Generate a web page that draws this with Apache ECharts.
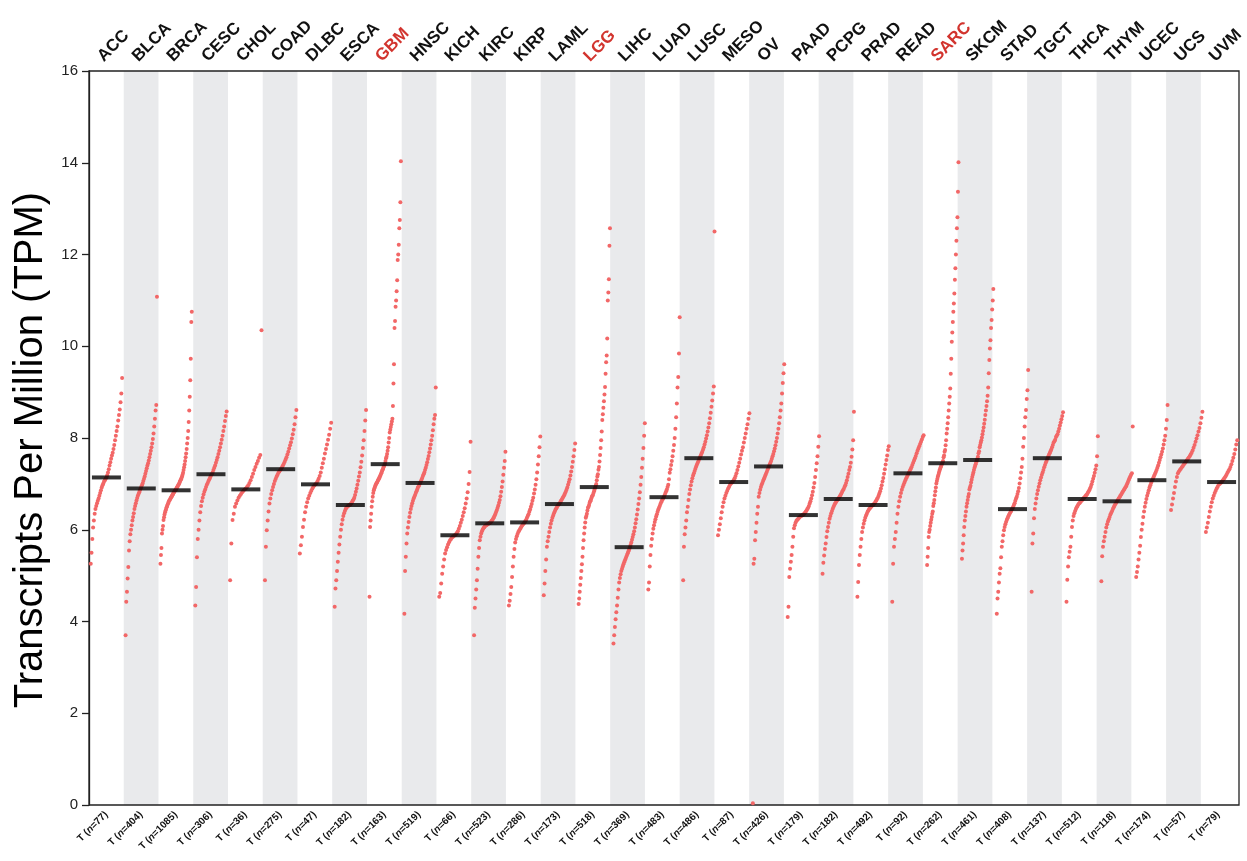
<!DOCTYPE html>
<html>
<head>
<meta charset="utf-8">
<script src="https://cdn.jsdelivr.net/npm/echarts@6/dist/echarts.min.js"></script>
<style>
html,body{margin:0;padding:0;background:#fff;}
#chart{width:1247px;height:861px;}
</style>
</head>
<body>
<div id="chart"></div>
<script>
const categories = ['ACC','BLCA','BRCA','CESC','CHOL','COAD','DLBC','ESCA','GBM','HNSC','KICH','KIRC','KIRP','LAML','LGG','LIHC','LUAD','LUSC','MESO','OV','PAAD','PCPG','PRAD','READ','SARC','SKCM','STAD','TGCT','THCA','THYM','UCEC','UCS','UVM'];
const sampleSizes = [77,404,1085,306,36,275,47,182,163,519,66,523,286,173,518,369,483,486,87,426,179,182,492,92,262,461,408,137,512,118,174,57,79];
const highlighted = ['GBM','LGG','SARC'];
const medians = [7.14,6.90,6.86,7.21,6.88,7.32,6.99,6.54,7.43,7.02,5.88,6.14,6.16,6.56,6.93,5.62,6.71,7.56,7.04,7.38,6.32,6.67,6.54,7.23,7.45,7.52,6.45,7.56,6.67,6.62,7.08,7.49,7.04];
const yAxisTitle = 'Transcripts Per Million (TPM)';

// sorted TPM values per cancer type
const ACC = [5.26,5.5,5.8,6.05,6.2,6.35,6.45,6.52,6.58,6.63,6.68,6.74,6.8,6.86,6.92,6.97,7.01,7.05,7.08,7.11,7.14,7.19,7.25,7.32,7.4,7.47,7.55,7.62,7.68,7.76,7.85,7.95,8.05,8.15,8.25,8.38,8.5,8.62,8.78,8.97,9.31];
const BLCA = [3.7,4.43,4.65,4.94,5.19,5.55,5.75,5.9,6.0,6.1,6.2,6.28,6.36,6.45,6.52,6.58,6.64,6.69,6.74,6.78,6.82,6.86,6.9,6.93,6.97,7.01,7.06,7.11,7.16,7.22,7.28,7.34,7.4,7.45,7.51,7.58,7.65,7.72,7.8,7.88,7.98,8.1,8.25,8.42,8.6,8.72,11.08];
const BRCA = [5.26,5.45,5.6,5.92,6.0,6.08,6.21,6.27,6.33,6.38,6.42,6.45,6.49,6.52,6.55,6.58,6.61,6.63,6.65,6.67,6.69,6.71,6.73,6.75,6.77,6.79,6.81,6.83,6.85,6.86,6.88,6.9,6.92,6.94,6.96,6.98,7.0,7.02,7.05,7.08,7.1,7.13,7.16,7.2,7.24,7.3,7.36,7.42,7.5,7.58,7.66,7.76,7.88,8.0,8.15,8.35,8.6,8.9,9.26,9.73,10.53,10.75];
const CESC = [4.35,4.75,5.4,5.8,6.0,6.2,6.38,6.52,6.62,6.7,6.77,6.83,6.88,6.93,6.98,7.02,7.06,7.1,7.14,7.18,7.21,7.25,7.3,7.35,7.4,7.46,7.52,7.58,7.65,7.72,7.8,7.88,7.96,8.05,8.15,8.25,8.37,8.48,8.58];
const CHOL = [4.9,5.7,6.21,6.35,6.5,6.57,6.64,6.7,6.74,6.78,6.82,6.85,6.88,6.9,6.93,6.97,7.02,7.08,7.15,7.22,7.3,7.37,7.44,7.5,7.57,7.63,10.35];
const COAD = [4.9,5.63,5.99,6.2,6.4,6.57,6.68,6.78,6.86,6.93,7.0,7.06,7.11,7.16,7.2,7.24,7.27,7.3,7.33,7.36,7.4,7.44,7.48,7.53,7.58,7.64,7.7,7.77,7.84,7.91,7.99,8.08,8.18,8.3,8.45,8.61];
const DLBC = [5.48,5.66,5.85,6.06,6.22,6.38,6.5,6.6,6.68,6.74,6.8,6.85,6.9,6.94,6.97,6.99,7.02,7.06,7.11,7.17,7.25,7.35,7.45,7.55,7.66,7.76,7.86,7.96,8.07,8.2,8.33];
const ESCA = [4.32,4.72,4.9,5.1,5.3,5.5,5.68,5.85,6.0,6.12,6.22,6.3,6.36,6.41,6.45,6.48,6.5,6.52,6.53,6.54,6.55,6.57,6.6,6.63,6.66,6.7,6.76,6.83,6.9,6.98,7.07,7.16,7.25,7.36,7.48,7.62,7.78,7.95,8.15,8.38,8.61];
const GBM = [4.54,6.06,6.2,6.35,6.5,6.62,6.72,6.8,6.86,6.9,6.93,6.96,6.99,7.01,7.03,7.05,7.08,7.1,7.12,7.15,7.17,7.2,7.23,7.26,7.29,7.32,7.35,7.38,7.41,7.44,7.5,7.56,7.59,7.65,7.72,7.8,7.9,8.0,8.12,8.18,8.24,8.3,8.36,8.42,8.7,9.19,9.61,10.4,10.55,10.86,11.0,11.2,11.44,11.88,12.0,12.21,12.57,12.75,13.14,14.03];
const HNSC = [4.17,5.1,5.41,5.7,5.92,6.05,6.17,6.28,6.37,6.45,6.52,6.58,6.63,6.68,6.72,6.76,6.8,6.84,6.88,6.92,6.95,6.98,7.02,7.05,7.09,7.13,7.17,7.21,7.25,7.3,7.35,7.41,7.47,7.54,7.61,7.69,7.77,7.86,7.95,8.05,8.17,8.3,8.42,8.5,9.1];
const KICH = [4.54,4.62,4.83,5.04,5.2,5.35,5.48,5.56,5.62,5.68,5.73,5.77,5.8,5.83,5.85,5.87,5.88,5.9,5.93,5.97,6.02,6.08,6.15,6.22,6.3,6.38,6.47,6.57,6.68,6.82,7.0,7.26,7.92];
const KIRC = [3.7,4.3,4.5,4.7,4.9,5.15,5.41,5.6,5.77,5.85,5.92,5.97,6.0,6.03,6.05,6.07,6.09,6.1,6.11,6.12,6.13,6.14,6.15,6.16,6.18,6.2,6.22,6.25,6.28,6.31,6.35,6.39,6.43,6.48,6.53,6.59,6.65,6.73,6.83,6.93,7.05,7.2,7.35,7.5,7.7];
const KIRP = [4.35,4.45,4.6,4.75,4.97,5.2,5.41,5.58,5.72,5.8,5.86,5.91,5.95,5.98,6.01,6.04,6.07,6.1,6.12,6.14,6.16,6.19,6.22,6.26,6.3,6.34,6.39,6.44,6.5,6.56,6.63,6.7,6.79,6.88,6.98,7.1,7.25,7.42,7.6,7.8,8.03];
const LAML = [4.57,4.83,5.1,5.35,5.63,5.75,5.85,5.95,6.05,6.13,6.2,6.26,6.31,6.36,6.4,6.44,6.47,6.5,6.53,6.55,6.57,6.6,6.63,6.66,6.69,6.72,6.75,6.79,6.83,6.87,6.92,6.98,7.04,7.1,7.18,7.27,7.37,7.48,7.6,7.74,7.88];
const LGG = [4.38,4.5,4.65,4.8,4.95,5.1,5.25,5.41,5.6,5.77,5.92,6.05,6.16,6.26,6.3,6.35,6.42,6.48,6.5,6.54,6.59,6.62,6.64,6.68,6.72,6.74,6.76,6.8,6.84,6.88,6.92,6.96,7.0,7.08,7.16,7.21,7.31,7.37,7.49,7.63,7.78,7.95,8.14,8.39,8.52,8.66,8.8,8.95,9.11,9.4,9.65,9.8,10.17,11.0,11.17,11.46,12.19,12.57];
const LIHC = [3.52,3.7,3.88,4.05,4.2,4.35,4.52,4.7,4.85,4.95,5.03,5.1,5.15,5.2,5.25,5.29,5.33,5.37,5.41,5.45,5.49,5.53,5.57,5.62,5.67,5.72,5.78,5.84,5.9,5.97,6.05,6.14,6.23,6.33,6.44,6.56,6.68,6.82,6.98,7.15,7.35,7.55,7.78,8.05,8.32];
const LUAD = [4.7,4.85,5.2,5.45,5.65,5.8,5.92,6.02,6.1,6.17,6.23,6.29,6.34,6.39,6.44,6.48,6.52,6.56,6.6,6.63,6.66,6.69,6.72,6.76,6.8,6.84,6.88,6.93,6.98,7.1,7.24,7.32,7.41,7.5,7.6,7.72,7.85,8.0,8.2,8.45,8.75,9.1,9.33,9.84,10.63];
const LUSC = [4.9,5.63,5.9,6.05,6.2,6.38,6.5,6.65,6.78,6.88,6.97,7.05,7.12,7.18,7.23,7.28,7.33,7.38,7.42,7.46,7.5,7.54,7.58,7.62,7.66,7.7,7.75,7.8,7.86,7.92,7.99,8.06,8.14,8.23,8.32,8.43,8.55,8.68,8.82,8.97,9.12,12.5];
const MESO = [5.88,6.0,6.12,6.25,6.38,6.5,6.6,6.68,6.74,6.8,6.85,6.9,6.94,6.98,7.01,7.03,7.05,7.08,7.12,7.17,7.23,7.3,7.38,7.46,7.55,7.64,7.72,7.8,7.9,8.0,8.1,8.2,8.3,8.42,8.54];
const OV = [0.04,5.26,5.37,5.77,5.95,6.15,6.35,6.5,6.72,6.8,6.87,6.93,6.98,7.02,7.06,7.1,7.14,7.18,7.22,7.26,7.3,7.34,7.38,7.42,7.46,7.5,7.55,7.6,7.65,7.71,7.77,7.84,7.92,8.0,8.1,8.2,8.32,8.45,8.6,8.75,8.97,9.2,9.41,9.61];
const PAAD = [4.1,4.32,4.97,5.15,5.3,5.45,5.63,5.85,6.03,6.1,6.15,6.19,6.21,6.23,6.25,6.27,6.29,6.3,6.31,6.32,6.33,6.35,6.37,6.39,6.42,6.45,6.48,6.52,6.57,6.62,6.68,6.75,6.83,6.92,7.02,7.15,7.3,7.45,7.6,7.81,8.04];
const PCPG = [5.04,5.28,5.44,5.58,5.7,5.84,5.97,6.06,6.15,6.24,6.3,6.36,6.41,6.46,6.5,6.54,6.57,6.6,6.63,6.65,6.67,6.7,6.73,6.76,6.79,6.83,6.86,6.89,6.93,6.97,7.02,7.08,7.15,7.22,7.3,7.37,7.46,7.59,7.75,7.95,8.57];
const PRAD = [4.54,4.86,5.23,5.45,5.63,5.8,5.95,6.05,6.13,6.2,6.26,6.31,6.35,6.39,6.42,6.45,6.47,6.49,6.51,6.53,6.54,6.56,6.58,6.61,6.64,6.67,6.7,6.74,6.79,6.84,6.9,6.97,7.05,7.13,7.22,7.32,7.42,7.52,7.62,7.74,7.82];
const READ = [4.43,5.26,5.63,5.8,5.95,6.15,6.35,6.5,6.62,6.72,6.8,6.87,6.93,6.98,7.03,7.08,7.12,7.16,7.2,7.24,7.28,7.32,7.36,7.41,7.46,7.51,7.56,7.61,7.67,7.72,7.77,7.82,7.87,7.92,7.97,8.02,8.06];
const SARC = [5.23,5.41,5.6,5.84,5.95,6.0,6.08,6.15,6.22,6.28,6.35,6.4,6.52,6.58,6.65,6.75,6.84,6.92,7.01,7.06,7.11,7.16,7.2,7.24,7.28,7.32,7.35,7.38,7.41,7.44,7.47,7.5,7.58,7.62,7.7,7.74,7.84,7.95,8.1,8.2,8.32,8.45,8.6,8.75,8.9,9.08,9.4,9.73,10.1,10.3,10.53,10.75,10.93,11.15,11.45,11.7,12.0,12.3,12.57,12.81,13.37,14.01];
const SKCM = [5.37,5.55,5.7,5.88,6.06,6.2,6.3,6.4,6.5,6.58,6.65,6.72,6.78,6.88,6.92,6.96,7.03,7.09,7.15,7.2,7.25,7.3,7.35,7.39,7.43,7.47,7.51,7.55,7.59,7.67,7.71,7.8,7.85,7.9,7.95,8.01,8.08,8.15,8.23,8.31,8.4,8.5,8.6,8.7,8.8,8.92,9.1,9.41,9.7,9.95,10.13,10.4,10.57,10.8,11.0,11.25];
const STAD = [4.17,4.5,4.65,4.85,5.04,5.16,5.4,5.63,5.75,5.88,5.99,6.06,6.12,6.17,6.21,6.25,6.29,6.32,6.35,6.38,6.41,6.44,6.47,6.5,6.54,6.58,6.63,6.68,6.72,6.78,6.84,6.91,7.01,7.12,7.25,7.37,7.55,7.81,8.0,8.25,8.45,8.61,8.85,9.04,9.48];
const TGCT = [4.65,5.7,5.92,6.25,6.45,6.57,6.68,6.78,6.86,6.94,7.01,7.08,7.14,7.2,7.25,7.3,7.36,7.41,7.46,7.5,7.55,7.59,7.63,7.67,7.71,7.75,7.8,7.85,7.9,7.93,7.96,8.02,8.05,8.08,8.14,8.2,8.27,8.34,8.41,8.48,8.56];
const THCA = [4.43,4.91,5.2,5.4,5.52,5.63,5.85,6.06,6.2,6.3,6.36,6.41,6.45,6.49,6.52,6.55,6.57,6.59,6.61,6.63,6.65,6.67,6.69,6.71,6.73,6.75,6.77,6.8,6.83,6.86,6.9,6.94,6.99,7.05,7.11,7.17,7.24,7.32,7.4,7.6,8.04];
const THYM = [4.88,5.42,5.63,5.75,5.85,5.95,6.05,6.12,6.18,6.23,6.28,6.33,6.37,6.41,6.45,6.49,6.53,6.56,6.59,6.62,6.65,6.68,6.71,6.74,6.77,6.8,6.83,6.86,6.89,6.92,6.95,6.99,7.03,7.08,7.12,7.16,7.2,7.23,8.25];
const UCEC = [4.97,5.08,5.2,5.35,5.5,5.65,5.84,6.0,6.13,6.28,6.4,6.5,6.59,6.67,6.74,6.8,6.86,6.92,6.97,7.02,7.06,7.1,7.14,7.18,7.22,7.26,7.3,7.35,7.4,7.46,7.52,7.58,7.64,7.7,7.77,7.86,7.95,8.05,8.2,8.39,8.72];
const UCS = [6.43,6.55,6.68,6.8,6.93,7.05,7.15,7.23,7.27,7.3,7.33,7.36,7.39,7.42,7.45,7.48,7.51,7.54,7.57,7.6,7.64,7.68,7.73,7.79,7.85,7.92,7.99,8.06,8.14,8.22,8.32,8.44,8.57];
const UVM = [5.95,6.05,6.15,6.28,6.4,6.5,6.6,6.68,6.74,6.8,6.85,6.9,6.94,6.98,7.0,7.02,7.04,7.07,7.1,7.13,7.16,7.2,7.24,7.28,7.32,7.37,7.43,7.5,7.57,7.65,7.75,7.86,7.95];

const tpm = {ACC,BLCA,BRCA,CESC,CHOL,COAD,DLBC,ESCA,GBM,HNSC,KICH,KIRC,KIRP,LAML,LGG,LIHC,LUAD,LUSC,MESO,OV,PAAD,PCPG,PRAD,READ,SARC,SKCM,STAD,TGCT,THCA,THYM,UCEC,UCS,UVM};

// points spread across each column by rank
const points = [];
categories.forEach((c, i) => {
  const vals = tpm[c];
  const n = vals.length;
  vals.forEach((v, k) => {
    points.push([i + 0.05 + 0.9 * (n > 1 ? k / (n - 1) : 0.5), v]);
  });
});
const medianPts = categories.map((c, i) => [i + 0.5, medians[i]]);

const FONT = 'Arial, "Liberation Sans", Helvetica, sans-serif';
const gridBox = {left: 89, right: 8, top: 71, bottom: 56};

const chart = echarts.init(document.getElementById('chart'), null, {renderer: 'canvas'});
chart.setOption({
  animation: false,
  backgroundColor: '#ffffff',
  textStyle: {fontFamily: FONT},
  graphic: [{
    type: 'text', x: 31, y: 450, rotation: Math.PI / 2, silent: true,
    style: {
      text: yAxisTitle, fontSize: 40, fontFamily: FONT, fill: '#000',
      align: 'center', verticalAlign: 'middle', textAlign: 'center', textVerticalAlign: 'middle'
    }
  }],
  grid: [
    Object.assign({show: true, borderColor: '#222', borderWidth: 1.3, backgroundColor: 'transparent', z: 3}, gridBox),
    Object.assign({show: false}, gridBox)
  ],
  xAxis: [
    {type: 'value', gridIndex: 0, min: 0, max: 33, show: false},
    {
      type: 'category', gridIndex: 1, position: 'top', data: categories,
      axisLine: {show: false}, axisTick: {show: false, interval: 0},
      axisLabel: {
        interval: 0, rotate: 45, margin: 6, verticalAlign: 'bottom',
        fontFamily: FONT,
        formatter: v => highlighted.includes(v) ? '{r|' + v + '}' : '{k|' + v + '}',
        rich: {
          r: {color: '#d2342e', fontWeight: 'bold', fontSize: 17, fontFamily: FONT},
          k: {color: '#111', fontWeight: 'bold', fontSize: 17, fontFamily: FONT}
        }
      }
    },
    {
      type: 'category', gridIndex: 1, position: 'bottom', data: categories,
      axisLine: {show: false}, axisTick: {show: false, interval: 0},
      splitArea: {show: true, interval: 0, areaStyle: {color: ['rgba(255,255,255,0)', '#e9eaec']}},
      axisLabel: {
        interval: 0, rotate: 45, margin: 8,
        fontFamily: FONT, fontSize: 10, color: '#111', fontWeight: 'bold',
        formatter: (v, i) => 'T ({i|n}=' + sampleSizes[i] + ')',
        rich: {i: {fontStyle: 'italic', fontWeight: 'bold', fontSize: 10, color: '#111', fontFamily: FONT}}
      }
    }
  ],
  yAxis: [
    {
      type: 'value', gridIndex: 0, min: 0, max: 16, interval: 2,
      axisLine: {show: true, lineStyle: {color: '#222', width: 1.3}},
      axisTick: {show: true, length: 7, lineStyle: {color: '#222', width: 1.3}},
      axisLabel: {fontSize: 15, color: '#222', margin: 11, fontFamily: FONT},
      splitLine: {show: false}
    },
    {type: 'value', gridIndex: 1, min: 0, max: 16, show: false}
  ],
  series: [
    {
      type: 'scatter', xAxisIndex: 0, yAxisIndex: 0, data: points,
      symbol: 'circle', symbolSize: 4,
      itemStyle: {color: '#f26767', opacity: 1},
      silent: true, z: 4
    },
    {
      type: 'scatter', xAxisIndex: 0, yAxisIndex: 0, data: medianPts,
      symbol: 'rect', symbolSize: [29, 4],
      itemStyle: {color: '#000'},
      silent: true, z: 6
    }
  ]
});
</script>
</body>
</html>
